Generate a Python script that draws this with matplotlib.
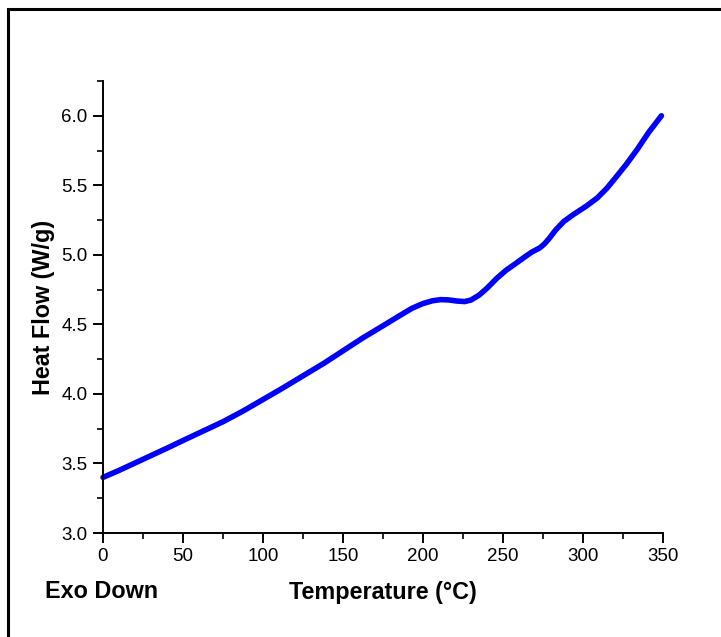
import matplotlib
matplotlib.use("Agg")
import matplotlib.pyplot as plt
from matplotlib.patches import Rectangle

plt.rcParams['font.family'] = ['Liberation Sans', 'DejaVu Sans']

# DSC trace
temperature = [0, 10, 25, 40, 50, 62, 75, 88, 100, 112, 125, 138, 150, 162, 175,
               185, 193, 200, 206, 211, 216, 221, 226, 230, 235, 240, 246, 252,
               257, 263, 268, 273, 276, 279, 283, 288, 294, 302, 309, 315, 320,
               327, 334, 341, 349]
heat_flow = [3.40, 3.45, 3.53, 3.61, 3.665, 3.73, 3.80, 3.88, 3.96, 4.04, 4.13,
             4.22, 4.31, 4.40, 4.49, 4.56, 4.615, 4.65, 4.67, 4.678, 4.676, 4.668,
             4.664, 4.675, 4.71, 4.76, 4.83, 4.89, 4.93, 4.98, 5.02, 5.05, 5.08,
             5.12, 5.18, 5.24, 5.29, 5.35, 5.41, 5.48, 5.55, 5.65, 5.76, 5.88, 6.00]

xticks = [0, 50, 100, 150, 200, 250, 300, 350]
yticks = [3.0, 3.5, 4.0, 4.5, 5.0, 5.5, 6.0]

fig = plt.figure(figsize=(7.21, 6.37), dpi=100)
ax = fig.add_axes([103 / 721, 1 - 533 / 637, 560 / 721, 452 / 637])

ax.plot(temperature, heat_flow, color='#0000ff', lw=4, solid_capstyle='round',
        solid_joinstyle='round', clip_on=False)

ax.set_xlim(0, 350)
ax.set_ylim(3.0, 6.25)
ax.set_xticks(xticks)
ax.set_yticks(yticks)
ax.set_yticklabels([f"{v:.1f}" for v in yticks])
ax.set_xticks(range(25, 350, 50), minor=True)
ax.set_yticks([3.25, 3.75, 4.25, 4.75, 5.25, 5.75, 6.25], minor=True)

for side in ['top', 'right']:
    ax.spines[side].set_visible(False)
for side in ['left', 'bottom']:
    ax.spines[side].set_linewidth(1.4)

ax.tick_params(which='major', direction='out', length=7, width=1.4, labelsize=13.5, pad=4)
ax.tick_params(which='minor', direction='out', length=4, width=1.2)

ax.set_xlabel("Temperature (°C)", fontsize=16.8, fontweight='bold', va='center')
ax.xaxis.set_label_coords(0.5, -(592 - 533) / 452)
ax.set_ylabel("Heat Flow (W/g)", fontsize=16.8, fontweight='bold', va='center')
ax.yaxis.set_label_coords(-(103 - 44) / 560, (533 - 307) / 452)

fig.text(45 / 721, 1 - 592 / 637, "Exo Down", fontsize=16.8, fontweight='bold',
         ha='left', va='center')

# frame around the figure (only top/left visible in the reference)
fig.patches.append(Rectangle((8 / 721, -0.2), 1.2, 1.2 - 9 / 637,
                             transform=fig.transFigure, fill=False,
                             edgecolor='black', lw=2.2))

fig.savefig("out.png", dpi=100)
